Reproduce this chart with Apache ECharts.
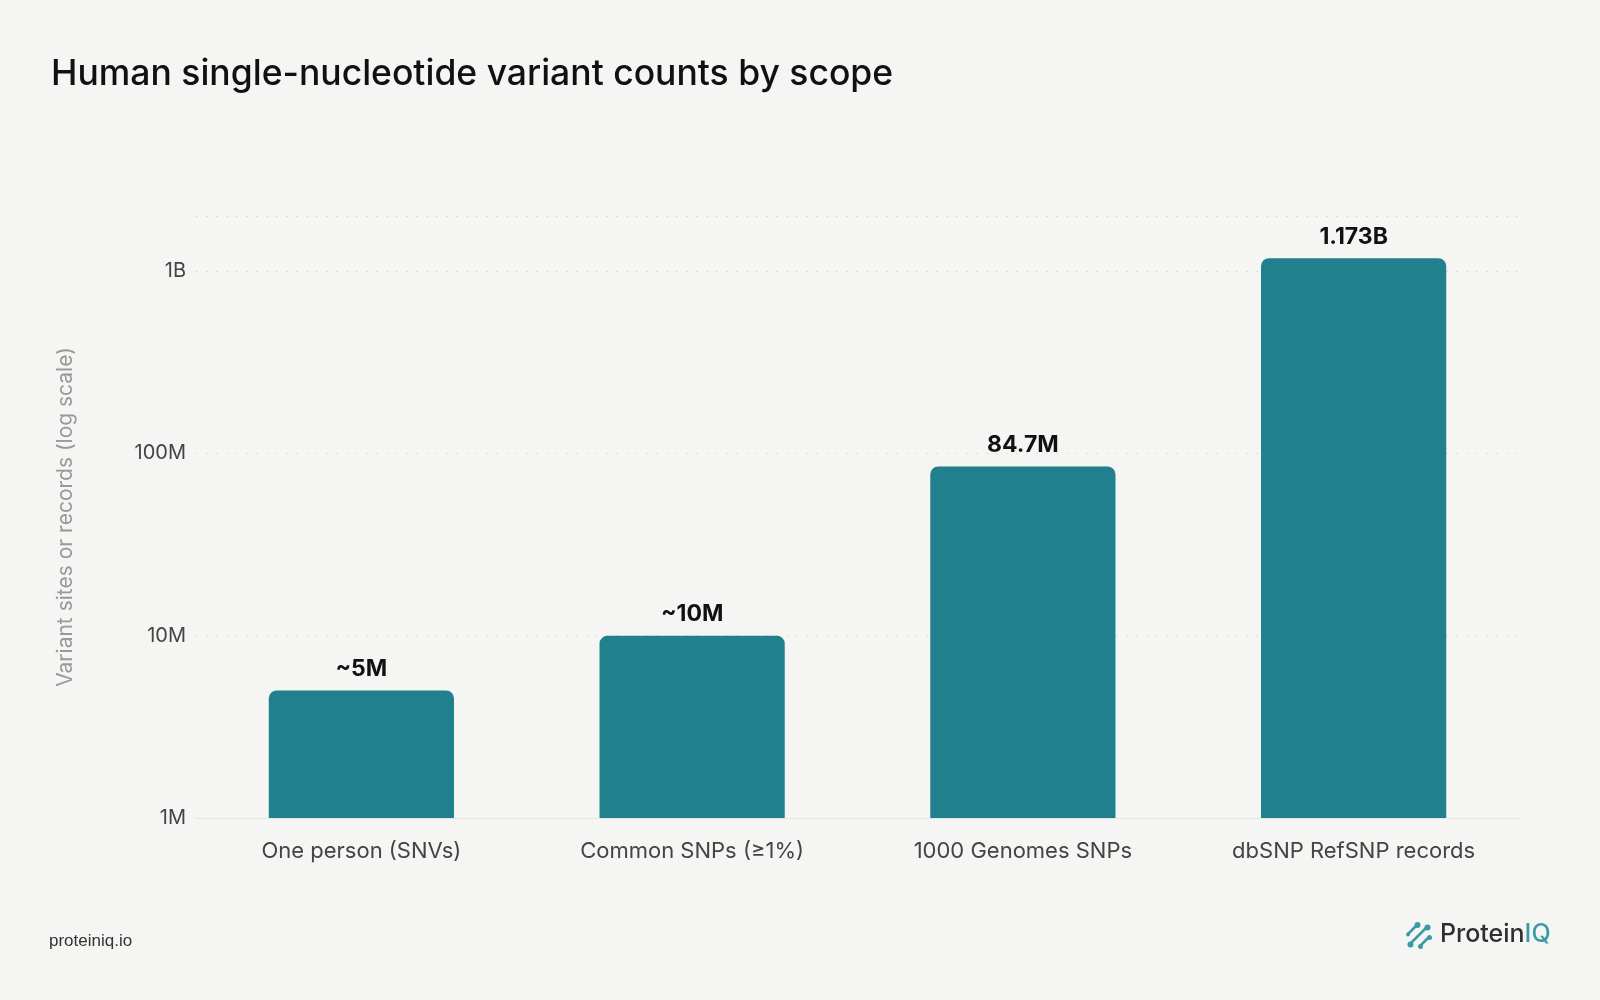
<!DOCTYPE html>
<html>
<head>
<meta charset="utf-8">
<title>Human single-nucleotide variant counts by scope</title>
<script src="https://cdn.jsdelivr.net/npm/echarts@6/dist/echarts.min.js"></script>
<style>
  html, body { margin: 0; padding: 0; background: #f5f5f3; }
  #chart { width: 1600px; height: 1000px; }
</style>
</head>
<body>
<div id="chart"></div>
<script>
// data
const categories = ['One person (SNVs)', 'Common SNPs (\u22651%)', '1000 Genomes SNPs', 'dbSNP RefSNP records'];
const counts = [5e6, 1e7, 84.7e6, 1.173e9];
const valueLabels = ['~5M', '~10M', '84.7M', '1.173B'];
const tickLabels = { 1e6: '1M', 1e7: '10M', 1e8: '100M', 1e9: '1B' };

const teal = '#21808d';
const font = 'Inter, "Noto Sans", sans-serif';

const chart = echarts.init(document.getElementById('chart'));

function tickLabel(v) {
    for (const k in tickLabels) {
        if (Math.abs(v / Number(k) - 1) < 1e-6) return tickLabels[k];
    }
    return '';
}

const option = {
    backgroundColor: '#f5f5f3',
    textStyle: { fontFamily: font },
    title: {
        text: 'Human single-nucleotide variant counts by scope',
        left: 46, top: 51,
        textStyle: { fontSize: 35.5, fontWeight: 500, color: '#111', fontFamily: font }
    },
    grid: { left: 196, right: 81, top: 216, bottom: 182, containLabel: false },
    xAxis: {
        type: 'category',
        data: categories,
        axisLine: { show: true, lineStyle: { color: '#e6e6e3', width: 1 } },
        axisTick: { show: false },
        axisLabel: { fontSize: 22, color: '#444', margin: 22, fontFamily: font }
    },
    yAxis: {
        type: 'log',
        logBase: 10,
        min: 1e6,
        max: 2e9,
        name: 'Variant sites or records (log scale)',
        nameLocation: 'middle',
        nameGap: 120,
        nameTextStyle: { fontSize: 21, color: '#999', fontFamily: font },
        axisLine: { show: false },
        axisTick: { show: false },
        axisLabel: { fontSize: 20, color: '#444', margin: 10, fontFamily: font, formatter: tickLabel },
        splitLine: { show: true, lineStyle: { color: '#dededb', type: [2, 8], width: 1 } }
    },
    series: [{
        type: 'bar',
        data: counts,
        barWidth: '56%',
        itemStyle: { color: teal, borderRadius: [8, 8, 0, 0] },
        label: {
            show: true,
            position: 'top',
            distance: 10,
            fontSize: 23,
            fontWeight: 700,
            color: '#111',
            fontFamily: font,
            formatter: p => valueLabels[p.dataIndex]
        },
        silent: true
    }],
    graphic: [
        {
            type: 'text', left: 49, top: 933,
            style: { text: 'proteiniq.io', fontSize: 17, fontWeight: 500, fill: '#333', font: '500 17px ' + font }
        },
        {
            type: 'text', left: 1440, top: 922,
            style: {
                text: '{a|Protein}{b|IQ}',
                rich: {
                    a: { fontSize: 25, fontWeight: 500, fill: '#2f2f2f', fontFamily: font },
                    b: { fontSize: 25, fontWeight: 500, fill: '#3a9ba8', fontFamily: font }
                }
            }
        },
        {
            type: 'group', left: 1406, top: 922,
            children: [
                { type: 'line', shape: { x1: 3, y1: 11, x2: 11, y2: 3 }, style: { stroke: '#3a9ba8', lineWidth: 2.5, lineCap: 'round' } },
                { type: 'line', shape: { x1: 5, y1: 21, x2: 21, y2: 5 }, style: { stroke: '#3a9ba8', lineWidth: 2.5, lineCap: 'round' } },
                { type: 'line', shape: { x1: 15, y1: 23, x2: 23, y2: 15 }, style: { stroke: '#3a9ba8', lineWidth: 2.5, lineCap: 'round' } },
                { type: 'circle', shape: { cx: 12, cy: 2.5, r: 3 }, style: { fill: '#3a9ba8' } },
                { type: 'circle', shape: { cx: 2.5, cy: 12, r: 2 }, style: { fill: '#3a9ba8' } },
                { type: 'circle', shape: { cx: 22, cy: 5, r: 3 }, style: { fill: '#3a9ba8' } },
                { type: 'circle', shape: { cx: 5, cy: 22, r: 3 }, style: { fill: '#3a9ba8' } },
                { type: 'circle', shape: { cx: 24, cy: 15, r: 2.5 }, style: { fill: '#3a9ba8' } },
                { type: 'circle', shape: { cx: 15, cy: 24, r: 2.5 }, style: { fill: '#3a9ba8' } }
            ]
        }
    ]
};

chart.setOption(option);
window.addEventListener('resize', () => chart.resize());
</script>
</body>
</html>
